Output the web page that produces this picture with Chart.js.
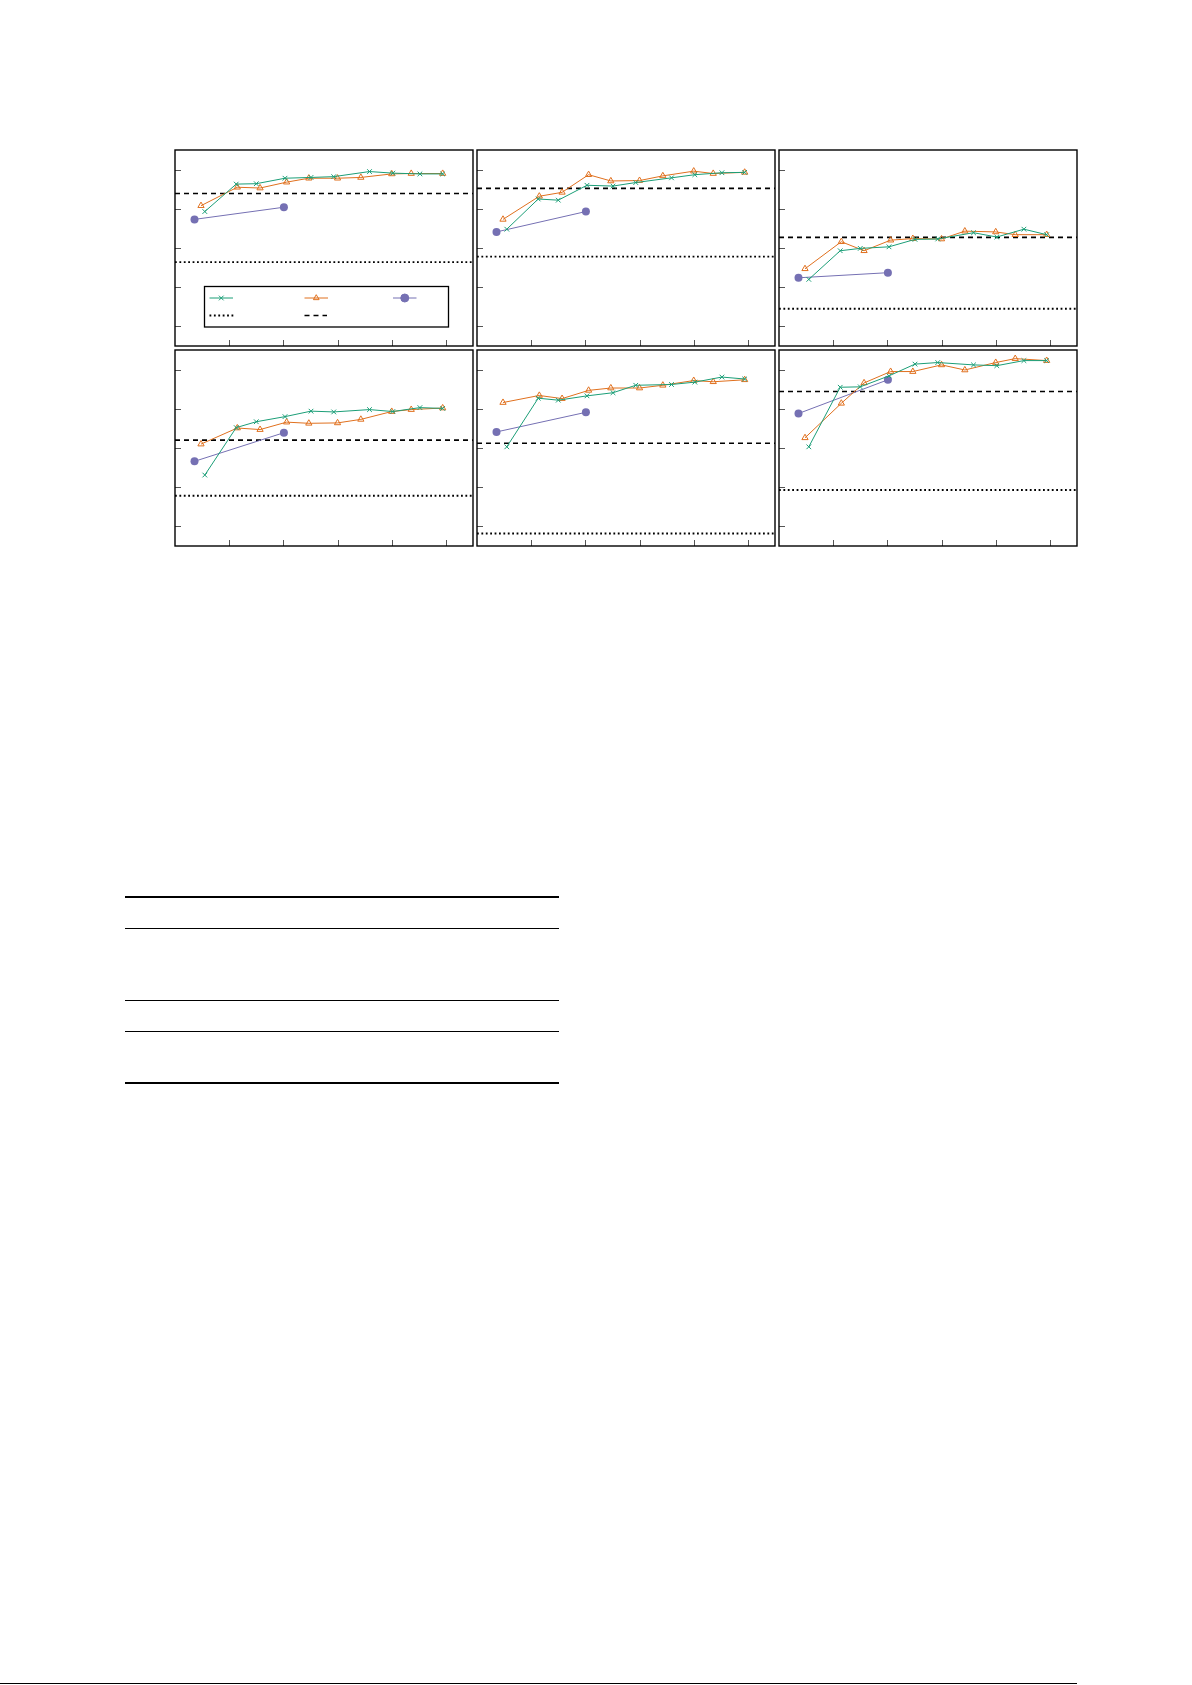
<!DOCTYPE html>
<html>
<head>
<meta charset="utf-8">
<script src="https://cdn.jsdelivr.net/npm/chart.js@4"></script>
<style>
  html, body { margin: 0; padding: 0; background: #fff; }
  body { width: 1192px; height: 1685px; position: relative; overflow: hidden; font-family: "Liberation Serif", serif; }
  .panel { position: absolute; }
  .rule { position: absolute; background: #000; }
</style>
</head>
<body>
<div id="panels"></div>
<div id="table"></div>
<div class="rule" style="left:0; top:1683px; width:1077px; height:1px"></div>
<script>
// x positions, shared by every panel (in tick units)
const xGreen = [0.55, 1.13, 1.50, 2.03, 2.51, 2.93, 3.59, 4.02, 4.52, 4.94]
const xOrange = [0.48, 1.15, 1.57, 2.06, 2.47, 3.00, 3.43, 4.00, 4.36, 4.94]
const xPurple = [0.36, 2.01]

const xTicks = [1, 2, 3, 4, 5]
const yTicks = [0, 1, 2, 3, 4]

// per-panel values (left to right, top to bottom)
const greenValues = [
  [2.93, 3.63, 3.64, 3.78, 3.80, 3.82, 3.95, 3.91, 3.89, 3.89],
  [2.48, 3.25, 3.22, 3.60, 3.58, 3.67, 3.79, 3.87, 3.92, 3.93],
  [1.20, 1.93, 1.99, 2.03, 2.22, 2.23, 2.39, 2.28, 2.48, 2.34],
  [1.31, 2.52, 2.67, 2.80, 2.94, 2.92, 2.98, 2.93, 3.03, 3.01],
  [2.03, 3.27, 3.22, 3.33, 3.41, 3.60, 3.62, 3.68, 3.81, 3.76],
  [2.03, 3.55, 3.56, 3.84, 4.14, 4.18, 4.12, 4.10, 4.23, 4.23]
]
const orangeValues = [
  [3.08, 3.55, 3.53, 3.68, 3.78, 3.78, 3.80, 3.89, 3.90, 3.90],
  [2.73, 3.32, 3.42, 3.87, 3.71, 3.72, 3.84, 3.96, 3.90, 3.93],
  [1.47, 2.16, 1.93, 2.20, 2.24, 2.23, 2.43, 2.41, 2.34, 2.34],
  [2.10, 2.51, 2.47, 2.66, 2.63, 2.64, 2.73, 2.93, 2.98, 3.02],
  [3.16, 3.34, 3.26, 3.47, 3.53, 3.53, 3.60, 3.72, 3.69, 3.74],
  [2.26, 3.14, 3.66, 3.95, 3.95, 4.12, 3.99, 4.18, 4.28, 4.23]
]
const purpleValues = [
  [2.73, 3.04],
  [2.41, 2.93],
  [1.24, 1.37],
  [1.66, 2.39],
  [2.41, 2.91],
  [2.88, 3.74]
]
const dashedLevels = [3.39, 3.52, 2.27, 2.20, 2.12, 3.44]
const dottedLevels = [1.64, 1.78, 0.45, 0.78, -0.18, 0.93]

const colors = {
  green: '#1b9e77',
  orange: '#e0701e',
  purple: '#7570b3'
}

const grid = {
  left: 173,
  top: 148,
  width: 302,
  height: 200,
  pad: 3
}

function points(xs, ys) {
  return ys.map((y, i) => ({ x: xs[i], y }))
}

function levelLine(level) {
  return [{ x: 0, y: level }, { x: 5.5, y: level }]
}

// frame and inward ticks, placed with the chart's own scales
const framePlugin = {
  id: 'frame',
  afterDatasetsDraw(chart) {
    const ctx = chart.ctx
    const area = chart.chartArea
    const xs = chart.scales.x
    const ys = chart.scales.y
    ctx.save()
    ctx.strokeStyle = '#555'
    ctx.lineWidth = 1
    ctx.beginPath()
    xTicks.forEach(t => {
      const px = Math.round(xs.getPixelForValue(t)) + 0.5
      ctx.moveTo(px, area.bottom)
      ctx.lineTo(px, area.bottom - 6)
    })
    yTicks.forEach(t => {
      const py = Math.round(ys.getPixelForValue(t)) + 0.5
      ctx.moveTo(area.left, py)
      ctx.lineTo(area.left + 6, py)
    })
    ctx.stroke()
    ctx.strokeStyle = '#000'
    ctx.lineWidth = 1.4
    ctx.strokeRect(area.left, area.top, area.right - area.left, area.bottom - area.top)
    ctx.restore()
  }
}

// legend box of the first panel (its labels are empty in the source)
const legendPlugin = {
  id: 'keyBox',
  afterDatasetsDraw(chart) {
    const ctx = chart.ctx
    const a = chart.chartArea
    const x0 = a.left + 29.5
    const y0 = a.top + 136.5
    ctx.save()
    ctx.strokeStyle = '#000'
    ctx.lineWidth = 1.3
    ctx.fillStyle = '#fff'
    ctx.fillRect(x0, y0, 244, 40.5)
    ctx.strokeRect(x0, y0, 244, 40.5)

    const row1 = a.top + 148
    const row2 = a.top + 165.5
    const samples = [
      { x: a.left + 34.5, color: colors.green, style: 'crossRot' },
      { x: a.left + 129.5, color: colors.orange, style: 'triangle' },
      { x: a.left + 218, color: colors.purple, style: 'circle' }
    ]
    samples.forEach(s => {
      ctx.strokeStyle = s.color
      ctx.lineWidth = 1
      ctx.beginPath()
      ctx.moveTo(s.x, row1)
      ctx.lineTo(s.x + 23.5, row1)
      ctx.stroke()
      const opts = {
        pointStyle: s.style,
        radius: s.style === 'circle' ? 4 : 3.3,
        borderWidth: 1,
        rotation: 0
      }
      ctx.fillStyle = s.style === 'circle' ? s.color : 'rgba(0,0,0,0)'
      Chart.helpers.drawPoint(ctx, opts, s.x + 11.75, row1)
    })

    ctx.strokeStyle = '#000'
    ctx.lineWidth = 1.9
    ctx.setLineDash([1.8, 2.6])
    ctx.beginPath()
    ctx.moveTo(a.left + 34.5, row2)
    ctx.lineTo(a.left + 59, row2)
    ctx.stroke()
    ctx.lineWidth = 1.6
    ctx.setLineDash([5, 4])
    ctx.beginPath()
    ctx.moveTo(a.left + 129.5, row2)
    ctx.lineTo(a.left + 152, row2)
    ctx.stroke()
    ctx.restore()
  }
}

function makePanel(i) {
  const col = i % 3
  const row = Math.floor(i / 3)
  const holder = document.createElement('div')
  holder.className = 'panel'
  holder.style.left = (grid.left + col * grid.width - grid.pad) + 'px'
  holder.style.top = (grid.top + row * grid.height - grid.pad) + 'px'
  const canvas = document.createElement('canvas')
  const w = grid.width + 2 * grid.pad
  const h = grid.height + 2 * grid.pad
  canvas.width = w
  canvas.height = h
  canvas.style.width = w + 'px'
  canvas.style.height = h + 'px'
  holder.appendChild(canvas)
  document.getElementById('panels').appendChild(holder)

  const datasets = [
    {
      data: points(xGreen, greenValues[i]),
      borderColor: colors.green,
      borderWidth: 1,
      pointStyle: 'crossRot',
      pointRadius: 3.3,
      pointBorderWidth: 1,
      pointBorderColor: colors.green,
      order: 1
    },
    {
      data: points(xOrange, orangeValues[i]),
      borderColor: colors.orange,
      borderWidth: 1,
      pointStyle: 'triangle',
      pointRadius: 3.6,
      pointBorderWidth: 1,
      pointBorderColor: colors.orange,
      pointBackgroundColor: 'rgba(255,255,255,0)',
      order: 2
    },
    {
      data: points(xPurple, purpleValues[i]),
      borderColor: colors.purple,
      borderWidth: 1,
      pointStyle: 'circle',
      pointRadius: 4,
      pointBorderWidth: 0,
      pointBackgroundColor: colors.purple,
      order: 3
    },
    {
      data: levelLine(dashedLevels[i]),
      borderColor: '#000',
      borderWidth: 1.6,
      borderDash: [5, 4],
      pointRadius: 0,
      order: 4
    },
    {
      data: levelLine(dottedLevels[i]),
      borderColor: '#000',
      borderWidth: 1.9,
      borderDash: [1.8, 2.6],
      pointRadius: 0,
      order: 5
    }
  ]

  const plugins = [framePlugin]
  if (i === 0) plugins.push(legendPlugin)

  return new Chart(canvas, {
    type: 'line',
    data: { datasets },
    options: {
      responsive: false,
      animation: false,
      devicePixelRatio: window.devicePixelRatio || 1,
      layout: { padding: grid.pad },
      elements: { line: { tension: 0 } },
      plugins: {
        legend: { display: false },
        tooltip: { enabled: false }
      },
      scales: {
        x: { type: 'linear', min: 0, max: 5.5, display: false },
        y: { type: 'linear', min: -0.5, max: 4.5, display: false }
      }
    },
    plugins
  })
}

for (let i = 0; i < 6; i++) makePanel(i)

// empty booktabs table under the figure
const tableRules = [
  { top: 896, h: 2 },
  { top: 928, h: 1 },
  { top: 1000, h: 1 },
  { top: 1031, h: 1 },
  { top: 1082, h: 2 }
]
tableRules.forEach(r => {
  const d = document.createElement('div')
  d.className = 'rule'
  d.style.left = '125px'
  d.style.width = '434px'
  d.style.top = r.top + 'px'
  d.style.height = r.h + 'px'
  document.getElementById('table').appendChild(d)
})
</script>
</body>
</html>
